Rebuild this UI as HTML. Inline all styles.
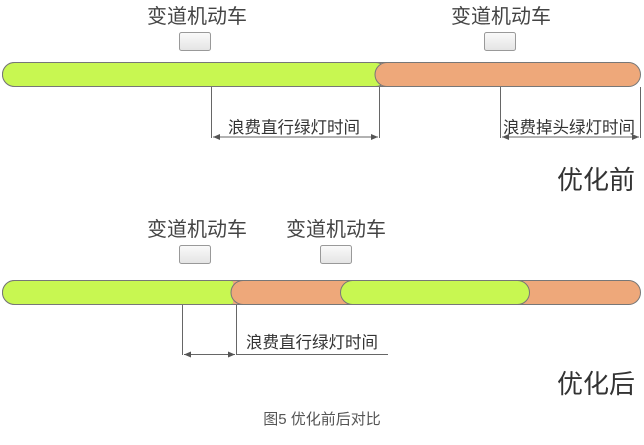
<!DOCTYPE html>
<html><head><meta charset="utf-8"><style>
body{margin:0;background:#fff;width:644px;height:440px;overflow:hidden}
svg text{font-family:"Liberation Sans","Noto Sans CJK SC",sans-serif}
</style></head><body>
<svg width="644" height="440" viewBox="0 0 644 440" xmlns="http://www.w3.org/2000/svg">
<defs>
<marker id="a" markerWidth="8" markerHeight="8" refX="7" refY="4" orient="auto-start-reverse" markerUnits="userSpaceOnUse"><path d="M0,1 L7,4 L0,7 Z" fill="#555"/></marker>
<linearGradient id="bx" x1="0" y1="0" x2="0" y2="1"><stop offset="0" stop-color="#fafafa"/><stop offset="1" stop-color="#e4e4e4"/></linearGradient>
</defs>
<g fill="#444" font-size="20">
<text x="147" y="23">变道机动车</text>
<text x="451" y="23">变道机动车</text>
<text x="147" y="236">变道机动车</text>
<text x="286" y="236">变道机动车</text>
</g>
<g fill="url(#bx)" stroke="#999" stroke-width="1">
<rect x="179.5" y="32.5" width="31" height="18" rx="2"/>
<rect x="484.5" y="32.5" width="31" height="18" rx="2"/>
<rect x="179.5" y="245.5" width="31" height="18" rx="2"/>
<rect x="320.5" y="245.5" width="31" height="18" rx="2"/>
</g>
<!-- top bar -->
<rect x="2.5" y="62.5" width="638" height="24" rx="12" fill="#eea87a" stroke="#777"/>
<rect x="2.5" y="62.5" width="385" height="24" rx="12" fill="#c8f751" stroke="#777"/>
<path d="M387,62.5 A12,12 0 0 0 387,86.5" fill="#eea87a" stroke="#777"/>
<rect x="387" y="63" width="6" height="23" fill="#eea87a"/>
<!-- bottom bar -->
<rect x="2.5" y="280.5" width="638" height="24" rx="12" fill="#eea87a" stroke="#777"/>
<rect x="2.5" y="280.5" width="240" height="24" rx="12" fill="#c8f751" stroke="#777"/>
<rect x="233" y="281" width="12" height="23" fill="#eea87a"/>
<path d="M243,280.5 A12,12 0 0 0 243,304.5" fill="#eea87a" stroke="#777"/>
<rect x="340.5" y="280.5" width="189" height="24" rx="12" fill="#c8f751" stroke="#777"/>
<g stroke="#666" stroke-width="1" fill="none">
<line x1="211.5" y1="87" x2="211.5" y2="138"/>
<line x1="379.5" y1="87" x2="379.5" y2="138"/>
<line x1="213" y1="137" x2="378" y2="137" marker-start="url(#a)" marker-end="url(#a)"/>
<line x1="500.5" y1="87" x2="500.5" y2="138"/>
<line x1="640.5" y1="87" x2="640.5" y2="138"/>
<line x1="502" y1="137" x2="639" y2="137" marker-start="url(#a)" marker-end="url(#a)"/>
<line x1="182.5" y1="305" x2="182.5" y2="355"/>
<line x1="236.5" y1="305" x2="236.5" y2="355"/>
<line x1="184" y1="354.5" x2="235" y2="354.5" marker-start="url(#a)" marker-end="url(#a)"/>
<line x1="237" y1="354.5" x2="388" y2="354.5"/>
</g>
<g fill="#333" font-size="16.5">
<text x="228" y="133">浪费直行绿灯时间</text>
<text x="503" y="133">浪费掉头绿灯时间</text>
<text x="246" y="348">浪费直行绿灯时间</text>
</g>
<g fill="#333" font-size="26">
<text x="557" y="189">优化前</text>
<text x="557" y="393">优化后</text>
</g>
<text x="322" y="424" font-size="15" fill="#555" text-anchor="middle">图5 优化前后对比</text>
</svg>
</body></html>
